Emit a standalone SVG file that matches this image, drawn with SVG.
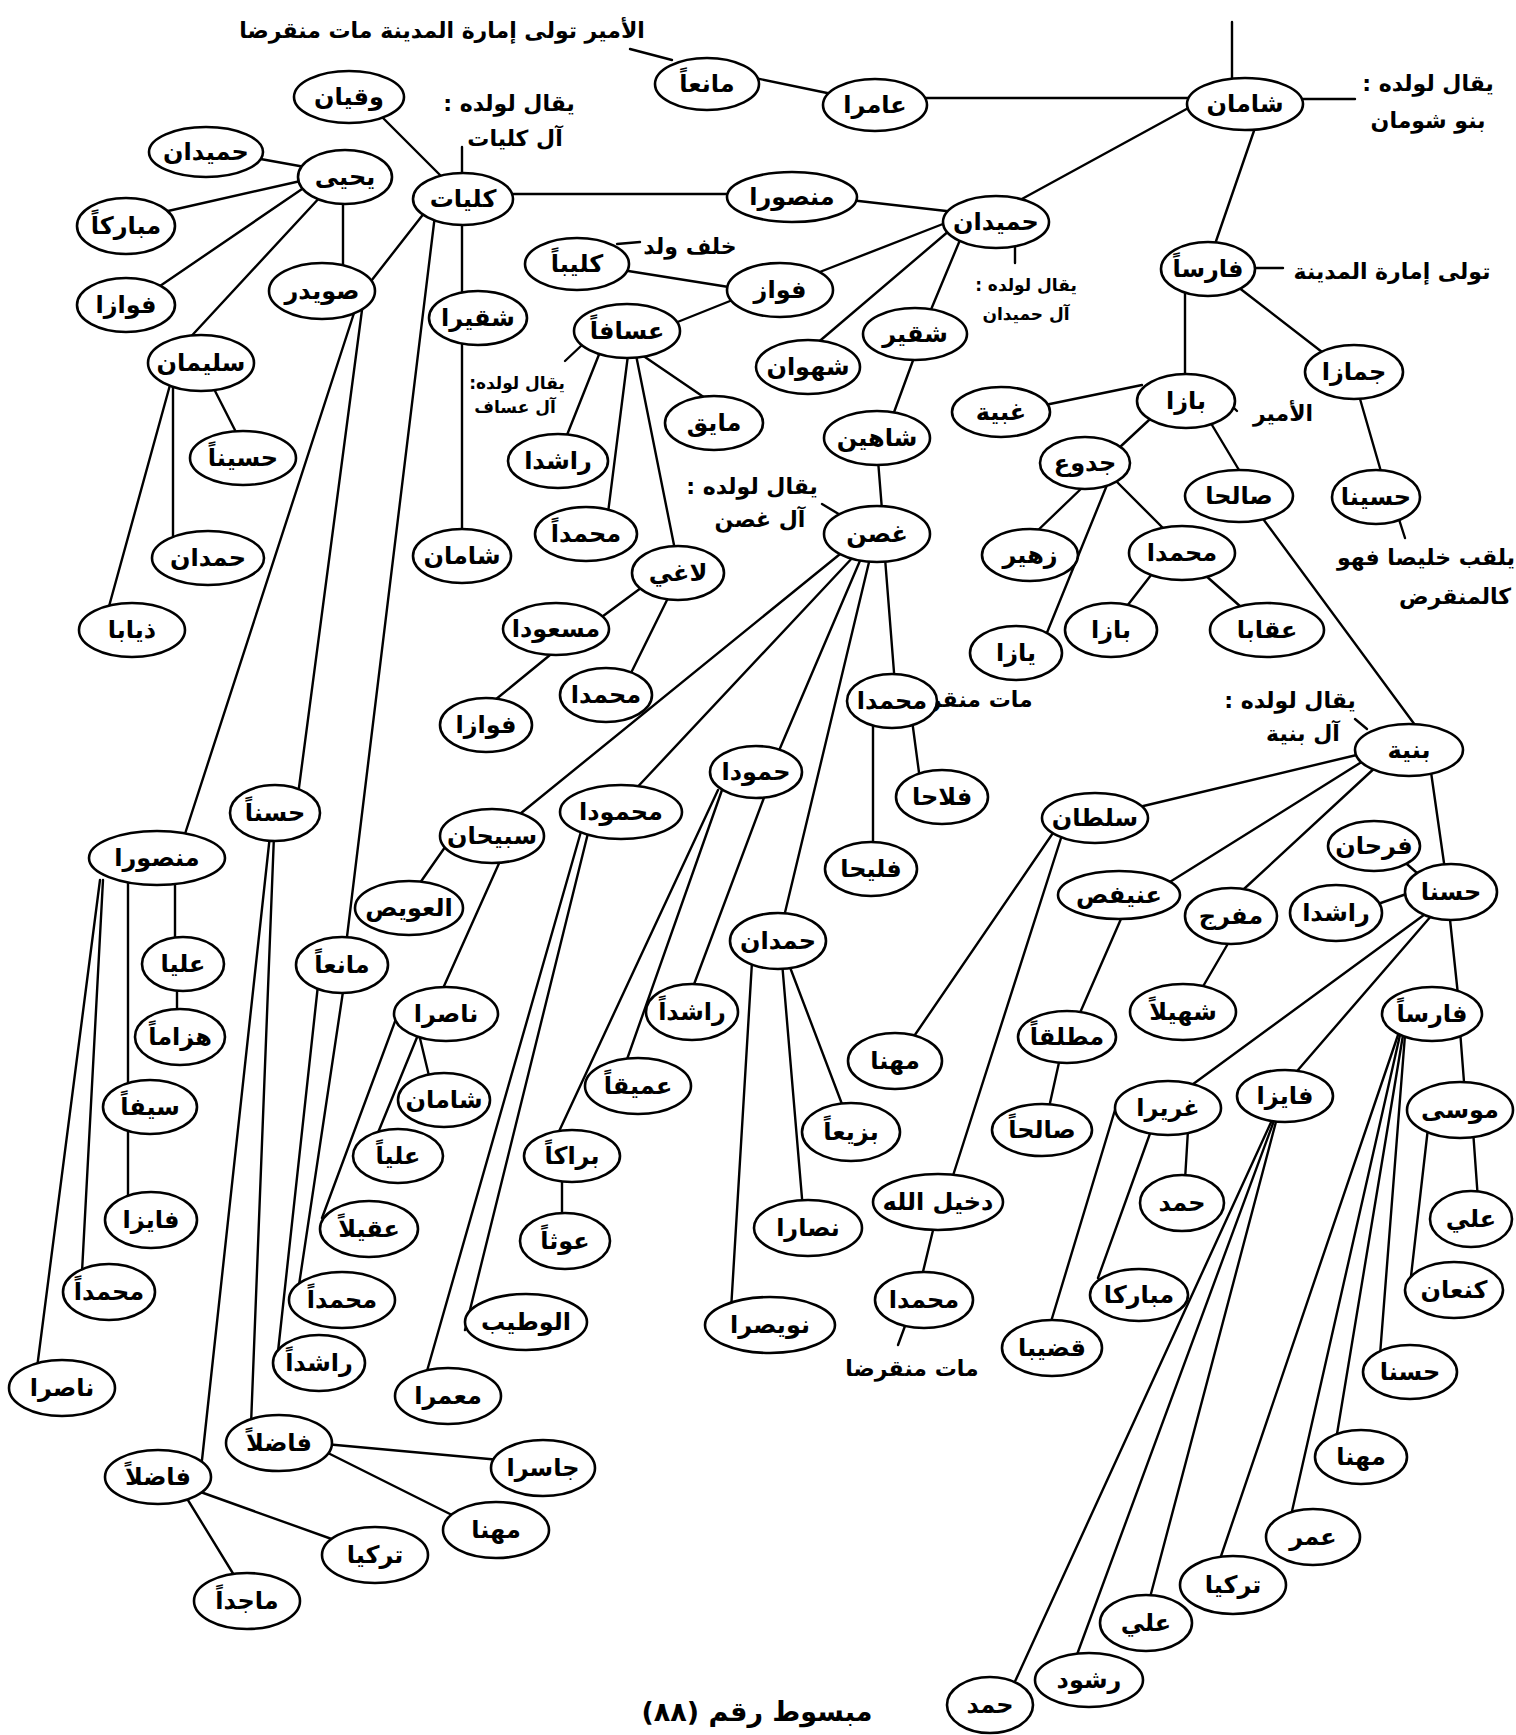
<svg xmlns="http://www.w3.org/2000/svg" width="1516" height="1735" viewBox="0 0 1516 1735">
<style>
.n ellipse{fill:#fff;stroke:#000;stroke-width:2.6}
text{font-family:'DejaVu Sans',sans-serif;font-weight:bold;font-size:24px;text-anchor:middle;direction:rtl;fill:#000}
.s{font-size:17px}
.m{font-size:22px}
.ttl{font-size:27px}
#edges line{stroke:#000;stroke-width:2.4;stroke-linecap:round}
</style>
<rect x="0" y="0" width="1516" height="1735" fill="#fff"/>
<g id="edges">
<line x1="1232" y1="22" x2="1232" y2="85"/>
<line x1="1300" y1="99" x2="1355" y2="99"/>
<line x1="920" y1="98" x2="1192" y2="98"/>
<line x1="755" y1="78" x2="832" y2="94"/>
<line x1="630" y1="49" x2="672" y2="60"/>
<line x1="380" y1="115" x2="443" y2="178"/>
<line x1="462" y1="147" x2="462" y2="180"/>
<line x1="505" y1="194" x2="735" y2="194"/>
<line x1="850" y1="200" x2="955" y2="212"/>
<line x1="1192" y1="106" x2="1020" y2="200"/>
<line x1="1256" y1="125" x2="1214" y2="247"/>
<line x1="1250" y1="268" x2="1283" y2="268"/>
<line x1="1015" y1="240" x2="1015" y2="263"/>
<line x1="948" y1="222" x2="812" y2="275"/>
<line x1="622" y1="270" x2="735" y2="288"/>
<line x1="617" y1="244" x2="640" y2="242"/>
<line x1="735" y1="299" x2="670" y2="325"/>
<line x1="950" y1="230" x2="815" y2="345"/>
<line x1="960" y1="240" x2="930" y2="312"/>
<line x1="915" y1="355" x2="893" y2="415"/>
<line x1="878" y1="460" x2="882" y2="510"/>
<line x1="565" y1="361" x2="582" y2="345"/>
<line x1="642" y1="355" x2="708" y2="400"/>
<line x1="600" y1="352" x2="565" y2="440"/>
<line x1="628" y1="355" x2="608" y2="513"/>
<line x1="636" y1="355" x2="675" y2="550"/>
<line x1="822" y1="504" x2="842" y2="516"/>
<line x1="1185" y1="290" x2="1185" y2="380"/>
<line x1="1238" y1="287" x2="1322" y2="352"/>
<line x1="1358" y1="392" x2="1382" y2="475"/>
<line x1="1142" y1="385" x2="1045" y2="405"/>
<line x1="1227" y1="401" x2="1237" y2="411"/>
<line x1="1163" y1="407" x2="1120" y2="447"/>
<line x1="1203" y1="410" x2="1245" y2="480"/>
<line x1="1085" y1="485" x2="1033" y2="535"/>
<line x1="1107" y1="485" x2="1044" y2="640"/>
<line x1="1115" y1="480" x2="1170" y2="535"/>
<line x1="1255" y1="508" x2="1415" y2="725"/>
<line x1="1396" y1="510" x2="1405" y2="538"/>
<line x1="1155" y1="570" x2="1120" y2="615"/>
<line x1="1205" y1="575" x2="1250" y2="615"/>
<line x1="1365" y1="753" x2="1135" y2="808"/>
<line x1="1368" y1="758" x2="1165" y2="885"/>
<line x1="1378" y1="765" x2="1232" y2="900"/>
<line x1="1430" y1="765" x2="1445" y2="870"/>
<line x1="1355" y1="719" x2="1367" y2="729"/>
<line x1="1400" y1="858" x2="1425" y2="880"/>
<line x1="1375" y1="905" x2="1412" y2="892"/>
<line x1="1428" y1="912" x2="1185" y2="1090"/>
<line x1="1432" y1="915" x2="1285" y2="1085"/>
<line x1="1449" y1="910" x2="1458" y2="995"/>
<line x1="1124" y1="912" x2="1076" y2="1022"/>
<line x1="1233" y1="935" x2="1198" y2="995"/>
<line x1="1060" y1="1058" x2="1048" y2="1112"/>
<line x1="1055" y1="830" x2="908" y2="1045"/>
<line x1="1062" y1="835" x2="950" y2="1185"/>
<line x1="1460" y1="1030" x2="1465" y2="1095"/>
<line x1="1473" y1="1130" x2="1478" y2="1200"/>
<line x1="1428" y1="1128" x2="1410" y2="1285"/>
<line x1="1405" y1="1035" x2="1380" y2="1355"/>
<line x1="1403" y1="1035" x2="1336" y2="1440"/>
<line x1="1400" y1="1035" x2="1290" y2="1520"/>
<line x1="1398" y1="1035" x2="1218" y2="1565"/>
<line x1="1277" y1="1118" x2="1148" y2="1605"/>
<line x1="1275" y1="1118" x2="1075" y2="1660"/>
<line x1="1273" y1="1118" x2="1012" y2="1688"/>
<line x1="1188" y1="1130" x2="1185" y2="1180"/>
<line x1="1152" y1="1128" x2="1098" y2="1278"/>
<line x1="1118" y1="1100" x2="1050" y2="1325"/>
<line x1="645" y1="585" x2="595" y2="622"/>
<line x1="668" y1="598" x2="630" y2="675"/>
<line x1="550" y1="655" x2="495" y2="700"/>
<line x1="845" y1="550" x2="515" y2="818"/>
<line x1="855" y1="555" x2="630" y2="795"/>
<line x1="862" y1="556" x2="775" y2="760"/>
<line x1="870" y1="558" x2="782" y2="925"/>
<line x1="885" y1="558" x2="895" y2="685"/>
<line x1="873" y1="720" x2="873" y2="850"/>
<line x1="912" y1="720" x2="920" y2="780"/>
<line x1="765" y1="795" x2="690" y2="995"/>
<line x1="722" y1="790" x2="625" y2="1065"/>
<line x1="718" y1="790" x2="555" y2="1140"/>
<line x1="782" y1="962" x2="803" y2="1210"/>
<line x1="752" y1="962" x2="731" y2="1310"/>
<line x1="788" y1="962" x2="845" y2="1112"/>
<line x1="562" y1="1175" x2="562" y2="1222"/>
<line x1="935" y1="1222" x2="921" y2="1280"/>
<line x1="905" y1="1326" x2="898" y2="1345"/>
<line x1="590" y1="825" x2="465" y2="1330"/>
<line x1="582" y1="828" x2="425" y2="1378"/>
<line x1="305" y1="167" x2="255" y2="158"/>
<line x1="305" y1="180" x2="168" y2="211"/>
<line x1="305" y1="187" x2="160" y2="286"/>
<line x1="322" y1="195" x2="185" y2="343"/>
<line x1="343" y1="200" x2="343" y2="270"/>
<line x1="425" y1="212" x2="368" y2="285"/>
<line x1="462" y1="220" x2="462" y2="298"/>
<line x1="462" y1="340" x2="462" y2="535"/>
<line x1="435" y1="215" x2="346" y2="945"/>
<line x1="355" y1="310" x2="183" y2="840"/>
<line x1="362" y1="310" x2="298" y2="795"/>
<line x1="170" y1="385" x2="108" y2="610"/>
<line x1="173" y1="385" x2="173" y2="538"/>
<line x1="212" y1="385" x2="240" y2="440"/>
<line x1="270" y1="835" x2="202" y2="1460"/>
<line x1="274" y1="835" x2="251" y2="1425"/>
<line x1="175" y1="880" x2="175" y2="945"/>
<line x1="177" y1="985" x2="177" y2="1015"/>
<line x1="128" y1="880" x2="128" y2="1200"/>
<line x1="103" y1="880" x2="82" y2="1272"/>
<line x1="100" y1="880" x2="37" y2="1368"/>
<line x1="195" y1="1490" x2="340" y2="1542"/>
<line x1="183" y1="1492" x2="237" y2="1580"/>
<line x1="325" y1="1444" x2="500" y2="1460"/>
<line x1="322" y1="1450" x2="458" y2="1518"/>
<line x1="318" y1="985" x2="276" y2="1370"/>
<line x1="344" y1="985" x2="299" y2="1285"/>
<line x1="450" y1="840" x2="415" y2="890"/>
<line x1="505" y1="850" x2="440" y2="995"/>
<line x1="418" y1="1030" x2="430" y2="1080"/>
<line x1="420" y1="1030" x2="375" y2="1140"/>
<line x1="400" y1="1008" x2="322" y2="1218"/>
</g>
<g id="labels">
<text x="442" y="38" class="m">الأمير تولى إمارة المدينة مات منقرضا</text>
<text x="1428" y="91" class="m">يقال لولده :</text>
<text x="1428" y="128" class="m">بنو شومان</text>
<text x="509" y="111" class="m">يقال لولده :</text>
<text x="515" y="146" class="m">آل كليات</text>
<text x="1392" y="279" class="m">تولى إمارة المدينة</text>
<text x="690" y="254" class="m">خلف ولد</text>
<text x="1026" y="291" class="s">يقال لولده :</text>
<text x="1026" y="320" class="s">آل حميدان</text>
<text x="517" y="389" class="s">يقال لولده:</text>
<text x="515" y="413" class="s">آل عساف</text>
<text x="752" y="494" class="m">يقال لولده :</text>
<text x="760" y="527" class="m">آل غصن</text>
<text x="1283" y="421" class="m">الأمير</text>
<text x="1426" y="565" class="m">يلقب خليصا فهو</text>
<text x="1455" y="604" class="m">كالمنقرض</text>
<text x="966" y="707" class="m">مات منقرضا</text>
<text x="1290" y="708" class="m">يقال لولده :</text>
<text x="1303" y="741" class="m">آل بنية</text>
<text x="912" y="1376" class="m">مات منقرضا</text>
<text x="757" y="1721" class="ttl">مبسوط رقم (٨٨)</text>
</g>
<g id="n_shaman" class="n"><ellipse cx="1245" cy="104" rx="58" ry="26"/><text x="1245" y="112">شامان</text></g>
<g id="n_amir" class="n"><ellipse cx="875" cy="105" rx="52" ry="26"/><text x="875" y="113">عامرا</text></g>
<g id="n_mania1" class="n"><ellipse cx="707" cy="84" rx="52" ry="26"/><text x="707" y="92">مانعاً</text></g>
<g id="n_waqyan" class="n"><ellipse cx="349" cy="97" rx="55" ry="26"/><text x="349" y="105">وقيان</text></g>
<g id="n_yahya" class="n"><ellipse cx="345" cy="177" rx="47" ry="27"/><text x="345" y="185">يحيى</text></g>
<g id="n_kulayyat" class="n"><ellipse cx="463" cy="199" rx="50" ry="26"/><text x="463" y="207">كليات</text></g>
<g id="n_mansour1" class="n"><ellipse cx="792" cy="197" rx="65" ry="25"/><text x="792" y="205">منصورا</text></g>
<g id="n_humaydan1" class="n"><ellipse cx="206" cy="152" rx="57" ry="25"/><text x="206" y="160">حميدان</text></g>
<g id="n_mubarak1" class="n"><ellipse cx="126" cy="226" rx="49" ry="28"/><text x="126" y="234">مباركاً</text></g>
<g id="n_fawaz1" class="n"><ellipse cx="126" cy="305" rx="49" ry="27"/><text x="126" y="313">فوازا</text></g>
<g id="n_suwaydir" class="n"><ellipse cx="322" cy="291" rx="53" ry="28"/><text x="322" y="299">صويدر</text></g>
<g id="n_shuqayr1" class="n"><ellipse cx="478" cy="318" rx="49" ry="27"/><text x="478" y="326">شقيرا</text></g>
<g id="n_sulayman" class="n"><ellipse cx="201" cy="363" rx="53" ry="28"/><text x="201" y="371">سليمان</text></g>
<g id="n_husayn1" class="n"><ellipse cx="243" cy="458" rx="53" ry="27"/><text x="243" y="466">حسيناً</text></g>
<g id="n_hamdan1" class="n"><ellipse cx="208" cy="558" rx="56" ry="27"/><text x="208" y="566">حمدان</text></g>
<g id="n_shaman2" class="n"><ellipse cx="462" cy="556" rx="49" ry="27"/><text x="462" y="564">شامان</text></g>
<g id="n_thiyab" class="n"><ellipse cx="132" cy="630" rx="53" ry="27"/><text x="132" y="638">ذيابا</text></g>
<g id="n_humaydan2" class="n"><ellipse cx="996" cy="222" rx="53" ry="26"/><text x="996" y="230">حميدان</text></g>
<g id="n_kulayb" class="n"><ellipse cx="577" cy="264" rx="52" ry="26"/><text x="577" y="272">كليباً</text></g>
<g id="n_fawwaz" class="n"><ellipse cx="780" cy="290" rx="53" ry="27"/><text x="780" y="298">فواز</text></g>
<g id="n_assaf" class="n"><ellipse cx="627" cy="331" rx="53" ry="27"/><text x="627" y="339">عسافاً</text></g>
<g id="n_shahwan" class="n"><ellipse cx="808" cy="367" rx="52" ry="27"/><text x="808" y="375">شهوان</text></g>
<g id="n_shuqayr2" class="n"><ellipse cx="915" cy="334" rx="52" ry="26"/><text x="915" y="342">شقير</text></g>
<g id="n_shahin" class="n"><ellipse cx="877" cy="438" rx="53" ry="27"/><text x="877" y="446">شاهين</text></g>
<g id="n_mayiq" class="n"><ellipse cx="714" cy="423" rx="49" ry="27"/><text x="714" y="431">مايق</text></g>
<g id="n_rashid1" class="n"><ellipse cx="558" cy="461" rx="50" ry="27"/><text x="558" y="469">راشدا</text></g>
<g id="n_muhammad1" class="n"><ellipse cx="586" cy="534" rx="51" ry="27"/><text x="586" y="542">محمداً</text></g>
<g id="n_laghi" class="n"><ellipse cx="678" cy="573" rx="46" ry="27"/><text x="678" y="581">لاغي</text></g>
<g id="n_ghusn" class="n"><ellipse cx="877" cy="534" rx="53" ry="28"/><text x="877" y="542">غصن</text></g>
<g id="n_faris1" class="n"><ellipse cx="1208" cy="269" rx="47" ry="27"/><text x="1208" y="277">فارساً</text></g>
<g id="n_jammaz" class="n"><ellipse cx="1354" cy="372" rx="49" ry="27"/><text x="1354" y="380">جمازا</text></g>
<g id="n_baz1" class="n"><ellipse cx="1186" cy="401" rx="49" ry="27"/><text x="1186" y="409">بازا</text></g>
<g id="n_ghubayya" class="n"><ellipse cx="1001" cy="412" rx="49" ry="25"/><text x="1001" y="420">غبية</text></g>
<g id="n_judu" class="n"><ellipse cx="1085" cy="463" rx="45" ry="26"/><text x="1085" y="471">جدوع</text></g>
<g id="n_salih1" class="n"><ellipse cx="1239" cy="496" rx="54" ry="26"/><text x="1239" y="504">صالحا</text></g>
<g id="n_husayn2" class="n"><ellipse cx="1376" cy="497" rx="44" ry="27"/><text x="1376" y="505">حسينا</text></g>
<g id="n_zuhayr" class="n"><ellipse cx="1030" cy="555" rx="48" ry="26"/><text x="1030" y="563">زهير</text></g>
<g id="n_muhammad2" class="n"><ellipse cx="1182" cy="553" rx="53" ry="27"/><text x="1182" y="561">محمدا</text></g>
<g id="n_baz2" class="n"><ellipse cx="1111" cy="630" rx="46" ry="27"/><text x="1111" y="638">بازا</text></g>
<g id="n_aqab" class="n"><ellipse cx="1267" cy="630" rx="57" ry="27"/><text x="1267" y="638">عقابا</text></g>
<g id="n_yaz" class="n"><ellipse cx="1016" cy="653" rx="46" ry="27"/><text x="1016" y="661">يازا</text></g>
<g id="n_buniyya" class="n"><ellipse cx="1409" cy="750" rx="54" ry="26"/><text x="1409" y="758">بنية</text></g>
<g id="n_sultan" class="n"><ellipse cx="1095" cy="818" rx="53" ry="25"/><text x="1095" y="826">سلطان</text></g>
<g id="n_farhan" class="n"><ellipse cx="1374" cy="846" rx="46" ry="25"/><text x="1374" y="854">فرحان</text></g>
<g id="n_hasan1" class="n"><ellipse cx="1451" cy="892" rx="46" ry="28"/><text x="1451" y="900">حسنا</text></g>
<g id="n_rashid2" class="n"><ellipse cx="1336" cy="913" rx="46" ry="28"/><text x="1336" y="921">راشدا</text></g>
<g id="n_unayfis" class="n"><ellipse cx="1119" cy="895" rx="61" ry="24"/><text x="1119" y="903">عنيفص</text></g>
<g id="n_mufarrij" class="n"><ellipse cx="1231" cy="916" rx="46" ry="28"/><text x="1231" y="924">مفرج</text></g>
<g id="n_shuhayl" class="n"><ellipse cx="1183" cy="1012" rx="53" ry="28"/><text x="1183" y="1020">شهيلاً</text></g>
<g id="n_mutlaq" class="n"><ellipse cx="1067" cy="1037" rx="49" ry="26"/><text x="1067" y="1045">مطلقاً</text></g>
<g id="n_faris2" class="n"><ellipse cx="1432" cy="1014" rx="50" ry="27"/><text x="1432" y="1022">فارساً</text></g>
<g id="n_salih2" class="n"><ellipse cx="1042" cy="1130" rx="50" ry="26"/><text x="1042" y="1138">صالحاً</text></g>
<g id="n_ghurayr" class="n"><ellipse cx="1168" cy="1108" rx="53" ry="27"/><text x="1168" y="1116">غريرا</text></g>
<g id="n_fayiz1" class="n"><ellipse cx="1285" cy="1096" rx="48" ry="26"/><text x="1285" y="1104">فايزا</text></g>
<g id="n_musa" class="n"><ellipse cx="1460" cy="1110" rx="53" ry="28"/><text x="1460" y="1118">موسى</text></g>
<g id="n_ali1" class="n"><ellipse cx="1471" cy="1219" rx="41" ry="28"/><text x="1471" y="1227">علي</text></g>
<g id="n_hamad1" class="n"><ellipse cx="1182" cy="1203" rx="42" ry="28"/><text x="1182" y="1211">حمد</text></g>
<g id="n_kanaan" class="n"><ellipse cx="1454" cy="1290" rx="49" ry="28"/><text x="1454" y="1298">كنعان</text></g>
<g id="n_mubarak2" class="n"><ellipse cx="1139" cy="1295" rx="49" ry="26"/><text x="1139" y="1303">مباركا</text></g>
<g id="n_qudayb" class="n"><ellipse cx="1052" cy="1348" rx="50" ry="28"/><text x="1052" y="1356">قضيبا</text></g>
<g id="n_hasan2" class="n"><ellipse cx="1410" cy="1372" rx="47" ry="27"/><text x="1410" y="1380">حسنا</text></g>
<g id="n_muhanna1" class="n"><ellipse cx="1361" cy="1457" rx="46" ry="27"/><text x="1361" y="1465">مهنا</text></g>
<g id="n_umar" class="n"><ellipse cx="1313" cy="1537" rx="47" ry="28"/><text x="1313" y="1545">عمر</text></g>
<g id="n_turki1" class="n"><ellipse cx="1233" cy="1585" rx="53" ry="29"/><text x="1233" y="1593">تركيا</text></g>
<g id="n_ali2" class="n"><ellipse cx="1146" cy="1623" rx="46" ry="28"/><text x="1146" y="1631">علي</text></g>
<g id="n_rashud" class="n"><ellipse cx="1089" cy="1680" rx="54" ry="27"/><text x="1089" y="1688">رشود</text></g>
<g id="n_hamad2" class="n"><ellipse cx="990" cy="1705" rx="43" ry="28"/><text x="990" y="1713">حمد</text></g>
<g id="n_masud" class="n"><ellipse cx="556" cy="629" rx="53" ry="26"/><text x="556" y="637">مسعودا</text></g>
<g id="n_muhammad3" class="n"><ellipse cx="606" cy="695" rx="46" ry="27"/><text x="606" y="703">محمدا</text></g>
<g id="n_fawaz2" class="n"><ellipse cx="486" cy="725" rx="46" ry="27"/><text x="486" y="733">فوازا</text></g>
<g id="n_subayhan" class="n"><ellipse cx="492" cy="836" rx="52" ry="27"/><text x="492" y="844">سبيحان</text></g>
<g id="n_mahmud" class="n"><ellipse cx="621" cy="812" rx="61" ry="27"/><text x="621" y="820">محمودا</text></g>
<g id="n_hammud" class="n"><ellipse cx="756" cy="772" rx="46" ry="26"/><text x="756" y="780">حمودا</text></g>
<g id="n_muhammad4" class="n"><ellipse cx="892" cy="701" rx="45" ry="27"/><text x="892" y="709">محمدا</text></g>
<g id="n_fallah" class="n"><ellipse cx="942" cy="797" rx="46" ry="27"/><text x="942" y="805">فلاحا</text></g>
<g id="n_fulayh" class="n"><ellipse cx="871" cy="869" rx="46" ry="27"/><text x="871" y="877">فليحا</text></g>
<g id="n_hamdan2" class="n"><ellipse cx="778" cy="941" rx="48" ry="28"/><text x="778" y="949">حمدان</text></g>
<g id="n_rashid3" class="n"><ellipse cx="692" cy="1012" rx="46" ry="28"/><text x="692" y="1020">راشداً</text></g>
<g id="n_amiq" class="n"><ellipse cx="638" cy="1086" rx="53" ry="28"/><text x="638" y="1094">عميقاً</text></g>
<g id="n_barrak" class="n"><ellipse cx="572" cy="1156" rx="48" ry="26"/><text x="572" y="1164">براكاً</text></g>
<g id="n_awth" class="n"><ellipse cx="565" cy="1241" rx="45" ry="28"/><text x="565" y="1249">عوثاً</text></g>
<g id="n_wutayb" class="n"><ellipse cx="526" cy="1322" rx="61" ry="28"/><text x="526" y="1330">الوطيب</text></g>
<g id="n_muammar" class="n"><ellipse cx="448" cy="1396" rx="53" ry="28"/><text x="448" y="1404">معمرا</text></g>
<g id="n_buzay" class="n"><ellipse cx="851" cy="1132" rx="49" ry="29"/><text x="851" y="1140">بزيعاً</text></g>
<g id="n_muhanna2" class="n"><ellipse cx="895" cy="1061" rx="47" ry="28"/><text x="895" y="1069">مهنا</text></g>
<g id="n_nassar" class="n"><ellipse cx="808" cy="1228" rx="54" ry="28"/><text x="808" y="1236">نصارا</text></g>
<g id="n_nuwaysir" class="n"><ellipse cx="770" cy="1325" rx="65" ry="28"/><text x="770" y="1333">نويصرا</text></g>
<g id="n_dakhilallah" class="n"><ellipse cx="938" cy="1202" rx="65" ry="28"/><text x="938" y="1210">دخيل الله</text></g>
<g id="n_muhammad5" class="n"><ellipse cx="924" cy="1300" rx="49" ry="28"/><text x="924" y="1308">محمدا</text></g>
<g id="n_hasan3" class="n"><ellipse cx="275" cy="813" rx="45" ry="28"/><text x="275" y="821">حسناً</text></g>
<g id="n_mansour2" class="n"><ellipse cx="157" cy="858" rx="68" ry="27"/><text x="157" y="866">منصورا</text></g>
<g id="n_aliya1" class="n"><ellipse cx="183" cy="964" rx="41" ry="27"/><text x="183" y="972">عليا</text></g>
<g id="n_hazzam" class="n"><ellipse cx="180" cy="1037" rx="45" ry="28"/><text x="180" y="1045">هزاماً</text></g>
<g id="n_sayf" class="n"><ellipse cx="150" cy="1107" rx="47" ry="27"/><text x="150" y="1115">سيفاً</text></g>
<g id="n_fayiz2" class="n"><ellipse cx="151" cy="1220" rx="46" ry="28"/><text x="151" y="1228">فايزا</text></g>
<g id="n_muhammad6" class="n"><ellipse cx="109" cy="1292" rx="46" ry="28"/><text x="109" y="1300">محمداً</text></g>
<g id="n_nasir1" class="n"><ellipse cx="62" cy="1388" rx="53" ry="28"/><text x="62" y="1396">ناصرا</text></g>
<g id="n_uwayyis" class="n"><ellipse cx="409" cy="908" rx="54" ry="27"/><text x="409" y="916">العويص</text></g>
<g id="n_mania2" class="n"><ellipse cx="342" cy="965" rx="46" ry="28"/><text x="342" y="973">مانعاً</text></g>
<g id="n_nasir2" class="n"><ellipse cx="446" cy="1014" rx="52" ry="27"/><text x="446" y="1022">ناصرا</text></g>
<g id="n_shaman3" class="n"><ellipse cx="444" cy="1100" rx="46" ry="27"/><text x="444" y="1108">شامان</text></g>
<g id="n_aliya2" class="n"><ellipse cx="398" cy="1156" rx="45" ry="27"/><text x="398" y="1164">علياً</text></g>
<g id="n_uqayl" class="n"><ellipse cx="369" cy="1229" rx="49" ry="28"/><text x="369" y="1237">عقيلاً</text></g>
<g id="n_muhammad7" class="n"><ellipse cx="342" cy="1300" rx="53" ry="28"/><text x="342" y="1308">محمداً</text></g>
<g id="n_rashid4" class="n"><ellipse cx="319" cy="1363" rx="46" ry="28"/><text x="319" y="1371">راشداً</text></g>
<g id="n_fadil1" class="n"><ellipse cx="158" cy="1477" rx="53" ry="27"/><text x="158" y="1485">فاضلاً</text></g>
<g id="n_fadil2" class="n"><ellipse cx="279" cy="1443" rx="53" ry="28"/><text x="279" y="1451">فاضلاً</text></g>
<g id="n_jasir" class="n"><ellipse cx="543" cy="1468" rx="52" ry="28"/><text x="543" y="1476">جاسرا</text></g>
<g id="n_muhanna3" class="n"><ellipse cx="496" cy="1530" rx="53" ry="28"/><text x="496" y="1538">مهنا</text></g>
<g id="n_turki2" class="n"><ellipse cx="375" cy="1555" rx="53" ry="28"/><text x="375" y="1563">تركيا</text></g>
<g id="n_majid" class="n"><ellipse cx="247" cy="1601" rx="53" ry="28"/><text x="247" y="1609">ماجداً</text></g>
</svg>
